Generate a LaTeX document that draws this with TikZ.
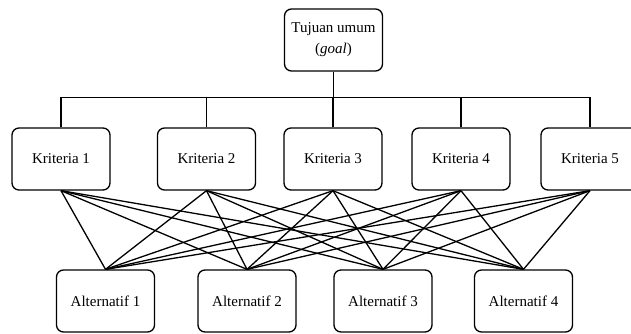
\documentclass[tikz,border=0pt]{standalone}
\usepackage{fontspec}
\setmainfont{Liberation Serif}

\begin{document}
\begin{tikzpicture}[x=1pt,y=-1pt,line width=1.3pt,
    box/.style={draw,rounded corners=7pt,minimum width=98pt,minimum height=62pt,
      inner sep=2pt,align=center,font=\fontsize{15}{21}\selectfont}]
    \useasboundingbox (0,0) rectangle (631,333);

    \node[box] (goal) at (333.5,40)  {Tujuan umum\\(\textit{goal})};

    \node[box] (k1) at (61,159)  {Kriteria 1};
    \node[box] (k2) at (206.5,159) {Kriteria 2};
    \node[box] (k3) at (333,159) {Kriteria 3};
    \node[box] (k4) at (461,159) {Kriteria 4};
    \node[box] (k5) at (590,159) {Kriteria 5};

    \node[box] (a1) at (105.5,301) {Alternatif 1};
    \node[box] (a2) at (247,301)   {Alternatif 2};
    \node[box] (a3) at (383,301)   {Alternatif 3};
    \node[box] (a4) at (523.5,301) {Alternatif 4};

    % goal to criteria
    \coordinate (bar) at (333,97.5);
    \draw (goal.south) -- (goal.south |- bar);
    \draw (k1.north) |- (bar) -| (k5.north);
    \draw (k2.north) -- (k2.north |- bar);
    \draw (k3.north) -- (k3.north |- bar);
    \draw (k4.north) -- (k4.north |- bar);

    % criteria to alternatives
    \path (k1.south) edge (a1.north) edge (a2.north) edge (a3.north) edge (a4.north)
          (k2.south) edge (a1.north) edge (a2.north) edge (a3.north) edge (a4.north)
          (k3.south) edge (a1.north) edge (a2.north) edge (a3.north) edge (a4.north)
          (k4.south) edge (a1.north) edge (a2.north) edge (a3.north) edge (a4.north)
          (k5.south) edge (a1.north) edge (a2.north) edge (a3.north) edge (a4.north);
\end{tikzpicture}
\end{document}
